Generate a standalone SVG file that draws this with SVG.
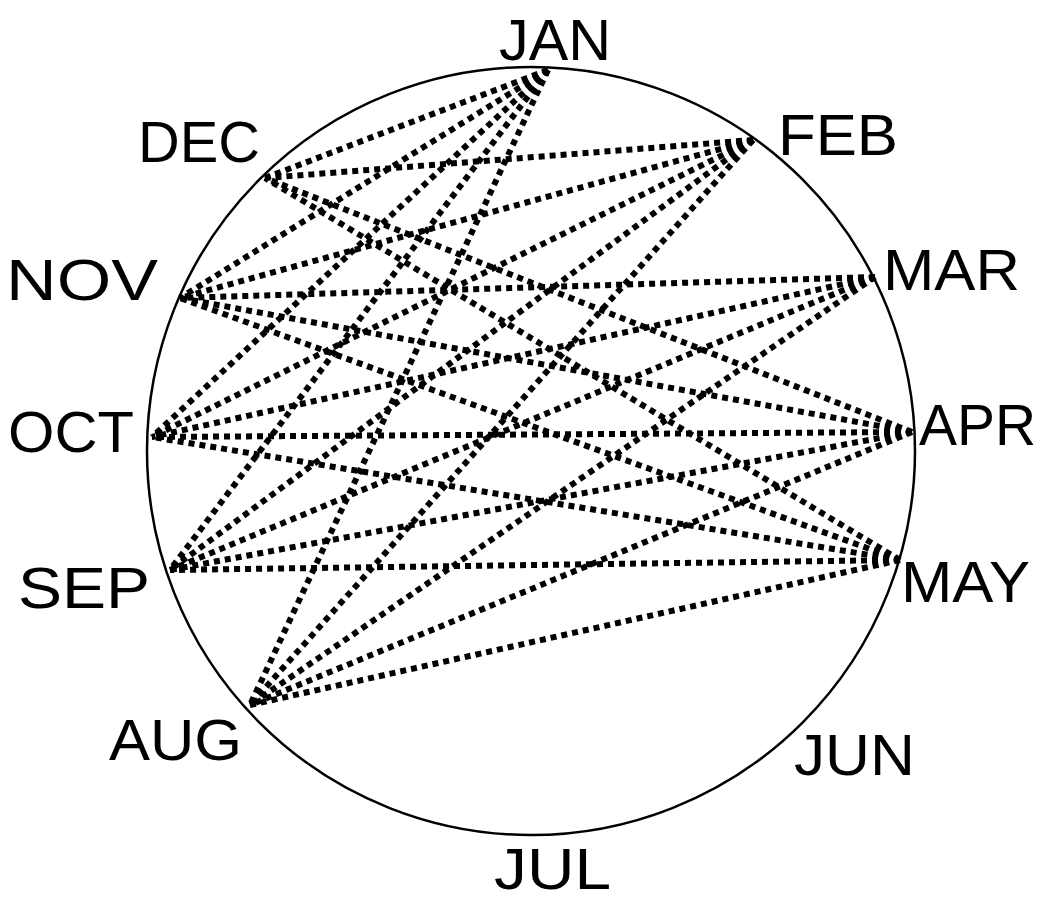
<svg xmlns="http://www.w3.org/2000/svg" width="1041" height="899" viewBox="0 0 1041 899">
<style>
.lbl{font-family:"Liberation Sans",Arial,sans-serif;font-size:58px;fill:#000}
.ln{stroke:#000;stroke-width:6;stroke-dasharray:6 5;fill:none}
</style>
<rect width="1041" height="899" fill="#fff"/>
<circle id="ring" cx="531" cy="451" r="384" fill="none" stroke="#000" stroke-width="2.5"/>
<g id="connectors">
<line class="ln" x1="548" y1="70" x2="265" y2="178"/>
<line class="ln" x1="548" y1="70" x2="180" y2="298"/>
<line class="ln" x1="548" y1="70" x2="152" y2="437"/>
<line class="ln" x1="548" y1="70" x2="170" y2="570"/>
<line class="ln" x1="548" y1="70" x2="250" y2="705"/>
<line class="ln" x1="753" y1="140" x2="265" y2="178"/>
<line class="ln" x1="753" y1="140" x2="180" y2="298"/>
<line class="ln" x1="753" y1="140" x2="152" y2="437"/>
<line class="ln" x1="753" y1="140" x2="170" y2="570"/>
<line class="ln" x1="753" y1="140" x2="250" y2="705"/>
<line class="ln" x1="875" y1="277" x2="180" y2="298"/>
<line class="ln" x1="875" y1="277" x2="152" y2="437"/>
<line class="ln" x1="875" y1="277" x2="170" y2="570"/>
<line class="ln" x1="875" y1="277" x2="250" y2="705"/>
<line class="ln" x1="912" y1="432" x2="265" y2="178"/>
<line class="ln" x1="912" y1="432" x2="180" y2="298"/>
<line class="ln" x1="912" y1="432" x2="152" y2="437"/>
<line class="ln" x1="912" y1="432" x2="170" y2="570"/>
<line class="ln" x1="912" y1="432" x2="250" y2="705"/>
<line class="ln" x1="900" y1="560" x2="265" y2="178"/>
<line class="ln" x1="900" y1="560" x2="180" y2="298"/>
<line class="ln" x1="900" y1="560" x2="152" y2="437"/>
<line class="ln" x1="900" y1="560" x2="170" y2="570"/>
<line class="ln" x1="900" y1="560" x2="250" y2="705"/>
</g>
<g id="jan"><text class="lbl" x="499" y="60" textLength="112" lengthAdjust="spacingAndGlyphs">JAN</text></g>
<g id="feb"><text class="lbl" x="778" y="155" textLength="120" lengthAdjust="spacingAndGlyphs">FEB</text></g>
<g id="mar"><text class="lbl" x="883" y="290" textLength="137" lengthAdjust="spacingAndGlyphs">MAR</text></g>
<g id="apr"><text class="lbl" x="919" y="445" textLength="117" lengthAdjust="spacingAndGlyphs">APR</text></g>
<g id="may"><text class="lbl" x="901" y="602" textLength="129" lengthAdjust="spacingAndGlyphs">MAY</text></g>
<g id="jun"><text class="lbl" x="794" y="775" textLength="121" lengthAdjust="spacingAndGlyphs">JUN</text></g>
<g id="jul"><text class="lbl" x="494" y="889" textLength="117" lengthAdjust="spacingAndGlyphs">JUL</text></g>
<g id="aug"><text class="lbl" x="109" y="760" textLength="133" lengthAdjust="spacingAndGlyphs">AUG</text></g>
<g id="sep"><text class="lbl" x="18" y="608" textLength="132" lengthAdjust="spacingAndGlyphs">SEP</text></g>
<g id="oct"><text class="lbl" x="8" y="452" textLength="126" lengthAdjust="spacingAndGlyphs">OCT</text></g>
<g id="nov"><text class="lbl" x="6" y="300" textLength="152" lengthAdjust="spacingAndGlyphs">NOV</text></g>
<g id="dec"><text class="lbl" x="138" y="162" textLength="122" lengthAdjust="spacingAndGlyphs">DEC</text></g>
</svg>
